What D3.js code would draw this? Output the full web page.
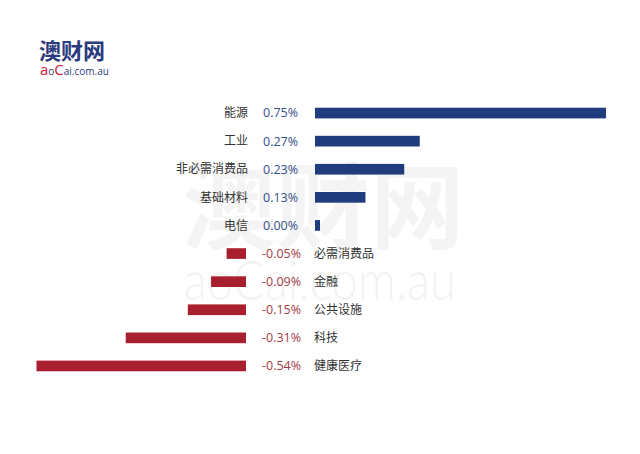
<!DOCTYPE html>
<html>
<head>
<meta charset="utf-8">
<script src="https://cdn.jsdelivr.net/npm/d3@7"></script>
<style>
  body { margin: 0; background: #fff; }
  svg { display: block; font-family: "Noto Sans CJK SC", "Noto Sans", sans-serif; }
</style>
</head>
<body>
<div id="chartArea"></div>
<script>
// sectors and daily change (%)
var sectors = ["能源", "工业", "非必需消费品", "基础材料", "电信", "必需消费品", "金融", "公共设施", "科技", "健康医疗"];
var changes = [0.75, 0.27, 0.23, 0.13, 0.00, -0.05, -0.09, -0.15, -0.31, -0.54];

var width = 640, height = 454;
var blue = "#1f3d7c", red = "#a81f2d";

var svg = d3.select("#chartArea").append("svg")
    .attr("width", width)
    .attr("height", height);

// watermark in the back
var wm = svg.append("g").attr("class", "watermark");
wm.append("text")
    .attr("x", 182).attr("y", 242)
    .attr("font-size", 94).attr("font-weight", "bold")
    .attr("fill", "#f4f4f4")
    .text("澳财网");
wm.append("text")
    .attr("x", 184).attr("y", 300)
    .attr("font-family", "Lato, 'Open Sans', sans-serif")
    .attr("font-size", 56).attr("font-weight", 300)
    .attr("textLength", 272).attr("lengthAdjust", "spacingAndGlyphs")
    .attr("fill", "#f2f2f2")
    .text("aoCai.com.au");

// logo top left
var logo = svg.append("g").attr("class", "logo");
logo.append("text")
    .attr("x", 39).attr("y", 59)
    .attr("font-size", 22).attr("font-weight", "bold")
    .attr("fill", "#2b3a7c")
    .text("澳财网");
var sub = logo.append("text")
    .attr("x", 40).attr("y", 75)
    .attr("font-family", "'Open Sans', sans-serif")
    .attr("fill", "#2b3a7c");
sub.append("tspan").attr("font-size", 15).attr("fill", "#c8202f").text("a");
sub.append("tspan").attr("font-size", 10).text("o");
sub.append("tspan").attr("font-size", 15).attr("fill", "#c8202f").text("C");
sub.append("tspan").attr("font-size", 10).text("ai.com.au");

// rows
var y = d3.scaleBand()
    .domain(sectors)
    .range([99, 380])
    .paddingInner(0.62)
    .paddingOuter(0.31);

// bar length per percent
var len = d3.scaleLinear().domain([0, 0.75]).range([0, 291]);

var posX = 315;   // left edge of rising bars
var negX = 246;   // right edge of falling bars

var rows = svg.append("g").attr("class", "rows")
    .selectAll("g")
    .data(sectors.map((s, i) => ({ name: s, v: changes[i] })))
    .enter().append("g");

rows.append("rect")
    .attr("x", d => d.v >= 0 ? posX : negX - len(-d.v))
    .attr("y", d => y(d.name))
    .attr("height", y.bandwidth())
    .attr("width", d => d.v >= 0 ? Math.max(len(d.v), 5) : len(-d.v))
    .attr("fill", d => d.v >= 0 ? blue : red);

var mid = d => y(d.name) + y.bandwidth() / 2;

rows.append("text")
    .attr("x", d => d.v >= 0 ? 263 : 262)
    .attr("y", mid)
    .attr("dy", "0.35em")
    .attr("font-family", "'Open Sans', 'Noto Sans', sans-serif")
    .attr("font-size", 12.5)
    .attr("fill", d => d.v >= 0 ? "#34508c" : "#a33a45")
    .text(d => d.v.toFixed(2) + "%");

rows.append("text")
    .attr("x", d => d.v >= 0 ? 248 : 314)
    .attr("y", mid)
    .attr("dy", "0.35em")
    .attr("text-anchor", d => d.v >= 0 ? "end" : "start")
    .attr("font-size", 12)
    .attr("fill", "#333")
    .text(d => d.name);
</script>
</body>
</html>
